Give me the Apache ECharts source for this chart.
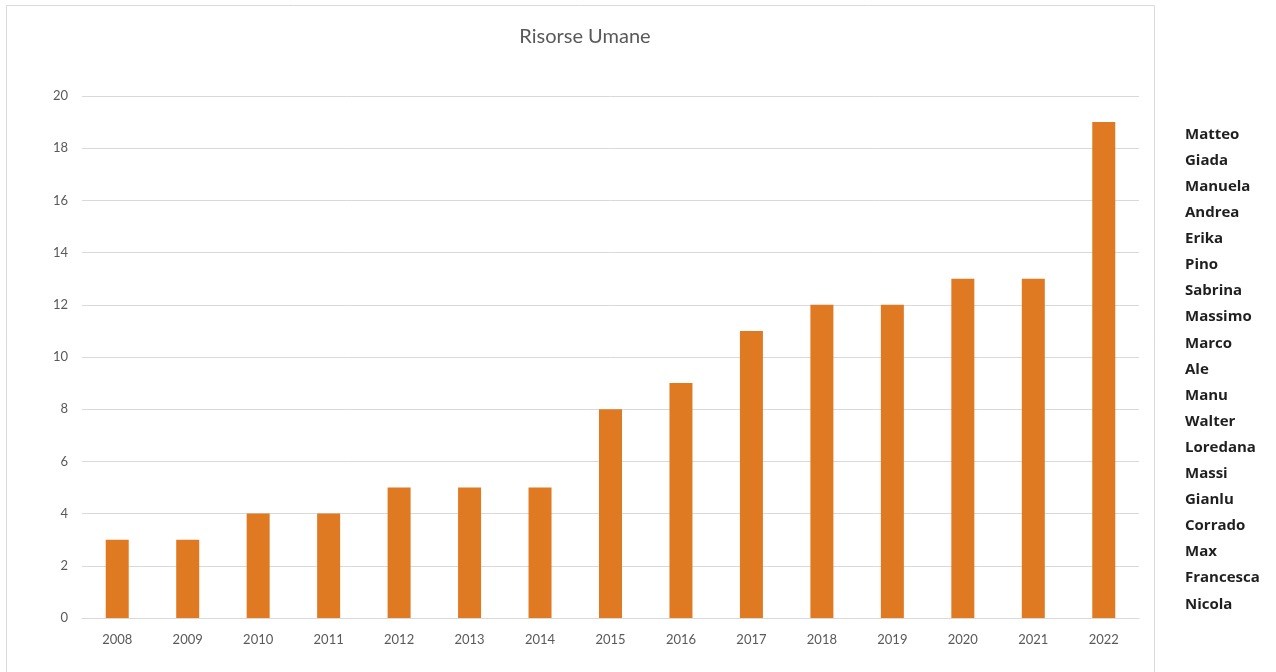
<!DOCTYPE html>
<html>
<head>
<meta charset="utf-8">
<style>
html,body{margin:0;padding:0;background:#fff;}
#c{width:1276px;height:672px;}
</style>
<script src="https://cdn.jsdelivr.net/npm/echarts@6/dist/echarts.min.js"></script>
</head>
<body>
<div id="c"></div>
<script>
const years = ['2008','2009','2010','2011','2012','2013','2014','2015','2016','2017','2018','2019','2020','2021','2022'];
const values = [3,3,4,4,5,5,5,8,9,11,12,12,13,13,19];
const names = ['Matteo','Giada','Manuela','Andrea','Erika','Pino','Sabrina','Massimo','Marco','Ale','Manu','Walter','Loredana','Massi','Gianlu','Corrado','Max','Francesca','Nicola'];
const chartTitle = 'Risorse Umane';

const chart = echarts.init(document.getElementById('c'));
const nameTexts = names.map((n, i) => ({
  type: 'text',
  left: 1185,
  top: 127 + i * 26.1,
  style: { text: n, font: 'bold 15px "Open Sans", Lato, sans-serif', fill: '#1f1f1f' }
}));
chart.setOption({
  animation: false,
  title: {
    text: chartTitle,
    left: 580, top: 22, textAlign: 'center',
    textStyle: { color: '#595959', fontSize: 20, fontWeight: 'normal', fontFamily: 'Lato, "Open Sans", sans-serif' }
  },
  grid: { left: 82, right: 137, top: 96, bottom: 54 },
  xAxis: {
    type: 'category', data: years,
    axisLine: { lineStyle: { color: '#d9d9d9' } },
    axisTick: { show: false },
    axisLabel: { color: '#595959', fontSize: 13, margin: 15, fontFamily: 'Lato, "Open Sans", sans-serif' }
  },
  yAxis: {
    type: 'value', min: 0, max: 20, interval: 2,
    axisLine: { show: false }, axisTick: { show: false },
    splitLine: { lineStyle: { color: '#d9d9d9' } },
    axisLabel: { color: '#595959', fontSize: 13, margin: 14, fontFamily: 'Lato, "Open Sans", sans-serif' }
  },
  series: [{
    type: 'bar', data: values, barWidth: 23,
    itemStyle: { color: '#E07A22' }
  }],
  graphic: [
    { type: 'rect', shape: { x: 6.5, y: 5.5, width: 1148, height: 700 }, style: { fill: 'none', stroke: '#d9d9d9', lineWidth: 1 }, silent: true }
  ].concat(nameTexts)
});
</script>
</body>
</html>
